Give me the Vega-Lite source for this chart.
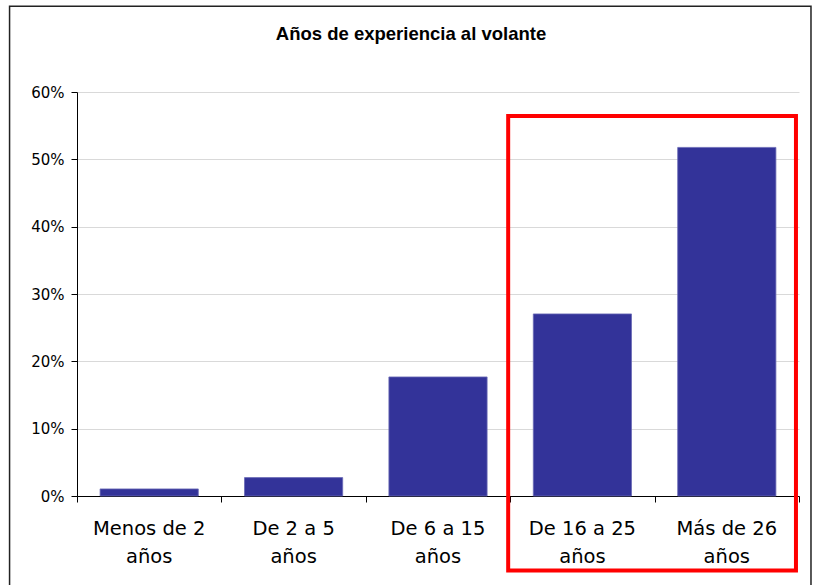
{
  "$schema": "https://vega.github.io/schema/vega-lite/v6.json",
  "width": 722,
  "height": 404,
  "autosize": {"type": "none"},
  "padding": {"left": 77, "top": 92, "right": 21, "bottom": 89},
  "background": "white",
  "config": {"view": {"stroke": null}, "font": "DejaVu Sans"},
  "title": {
    "text": "Años de experiencia al volante",
    "font": "Liberation Sans",
    "fontSize": 18.5,
    "fontWeight": "bold",
    "color": "#000000",
    "anchor": "middle",
    "frame": "group",
    "dx": -27,
    "offset": -38
  },
  "datasets": {
    "barras": [
      {"grupo": "Menos de 2 años", "porcentaje": 0.0105},
      {"grupo": "De 2 a 5 años", "porcentaje": 0.0273},
      {"grupo": "De 6 a 15 años", "porcentaje": 0.1768},
      {"grupo": "De 16 a 25 años", "porcentaje": 0.2704},
      {"grupo": "Más de 26 años", "porcentaje": 0.5177}
    ],
    "destacado": [
      {"desde": 2.986, "hasta": 4.979, "arriba": 0.5644, "abajo": -0.1106}
    ],
    "marco": [
      {"desde": -0.467, "hasta": 5.083, "arriba": 0.7275, "abajo": -0.2}
    ]
  },
  "layer": [
    {
      "data": {"name": "barras"},
      "mark": {"type": "bar", "color": "#333399", "width": {"band": 0.68}, "stroke": "#6a6ab5", "strokeWidth": 0.8},
      "encoding": {
        "x": {
          "field": "grupo",
          "type": "nominal",
          "sort": null,
          "scale": {"paddingInner": 0, "paddingOuter": 0},
          "axis": {
            "title": null,
            "ticks": false,
            "domain": false,
            "labelAngle": 0,
            "labelFont": "DejaVu Sans",
            "labelFontSize": 19.5,
            "labelColor": "#000000",
            "labelPadding": 23,
            "labelBaseline": "top",
            "labelLineHeight": 28,
            "labelExpr": "[slice(datum.label,0,lastindexof(datum.label,' ')), slice(datum.label,lastindexof(datum.label,' ')+1)]"
          }
        },
        "y": {
          "field": "porcentaje",
          "type": "quantitative",
          "scale": {"domain": [0, 0.6], "nice": false},
          "axis": {
            "title": null,
            "format": ".0%",
            "values": [0, 0.1, 0.2, 0.3, 0.4, 0.5, 0.6],
            "grid": true,
            "gridColor": "#d9d9d9",
            "gridWidth": 1,
            "domainColor": "#000000",
            "tickColor": "#000000",
            "tickSize": 6,
            "labelFont": "DejaVu Sans",
            "labelFontSize": 15,
            "labelColor": "#000000",
            "labelPadding": 7
          }
        }
      }
    },
    {
      "data": {"name": "destacado"},
      "mark": {"type": "rect", "fill": null, "stroke": "#ff0000", "strokeWidth": 4},
      "encoding": {
        "x": {
          "field": "desde",
          "type": "quantitative",
          "scale": {"domain": [0, 5], "nice": false, "zero": false},
          "axis": {
            "orient": "bottom",
            "title": null,
            "values": [0, 1, 2, 3, 4, 5],
            "labels": false,
            "grid": false,
            "domain": true,
            "domainColor": "#000000",
            "ticks": true,
            "tickColor": "#000000",
            "tickSize": 6
          }
        },
        "x2": {"field": "hasta"},
        "y": {"field": "arriba", "type": "quantitative"},
        "y2": {"field": "abajo"}
      }
    },
    {
      "data": {"name": "marco"},
      "mark": {"type": "rect", "fill": null, "stroke": "#222222", "strokeWidth": 1.5},
      "encoding": {
        "x": {
          "field": "desde",
          "type": "quantitative",
          "scale": {"domain": [0, 5], "nice": false, "zero": false},
          "axis": null
        },
        "x2": {"field": "hasta"},
        "y": {"field": "arriba", "type": "quantitative"},
        "y2": {"field": "abajo"}
      }
    }
  ],
  "resolve": {"scale": {"x": "independent"}, "axis": {"x": "independent"}}
}
